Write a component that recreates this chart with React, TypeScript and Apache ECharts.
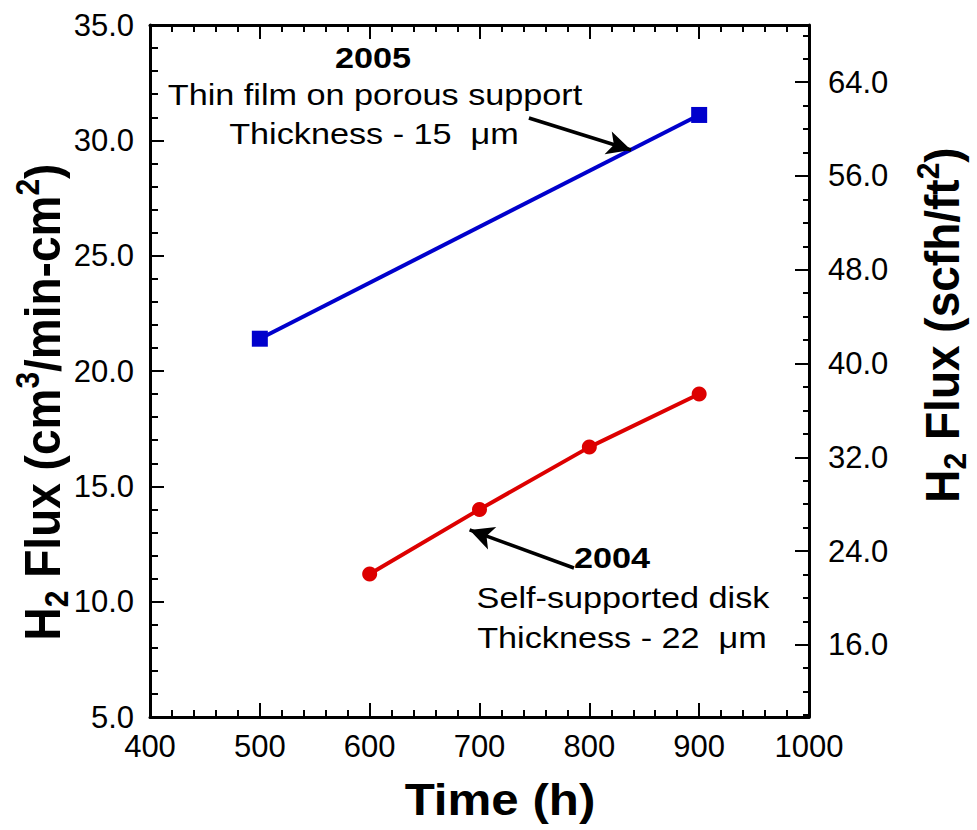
import React, { useEffect, useRef } from "react";
import * as echarts from "echarts";

// ---- data ----
const X_MIN = 400;
const X_MAX = 1000;
const Y_MIN = 5;
const Y_MAX = 35;
const SCFH_PER_CM3 = 1.968; // cm3/min-cm2 -> scfh/ft2
const thinFilm2005: [number, number][] = [
  [500, 21.4],
  [900, 31.1],
];
const disk2004: [number, number][] = [
  [600, 11.2],
  [700, 14.0],
  [800, 16.7],
  [900, 19.0],
];
const rightMajorTicks = [16, 24, 32, 40, 48, 56, 64];
const rightMinorTicks = [10, 12, 14, 18, 20, 22, 26, 28, 30, 34, 36, 38, 42, 44, 46, 50, 52, 54, 58, 60, 62, 66, 68];
// arrow annotations [from, to] in data coordinates (Time, cm3/min-cm2)
const arrow2005: [number, number][] = [
  [745, 30.97],
  [838, 29.58],
];
const arrow2004: [number, number][] = [
  [786, 11.46],
  [691, 13.11],
];

const FONT = "'Liberation Sans', Arial, Helvetica, sans-serif";

export default function App() {
  const ref = useRef<HTMLDivElement>(null);
  useEffect(() => {
    if (!ref.current) return;
    const chart = echarts.init(ref.current, null, { renderer: "svg" });
    const axisLine = { show: true, lineStyle: { color: "#000", width: 3 } };
    const labelStyle = { color: "#000", fontSize: 31, fontFamily: FONT };
    const titleRich = {
      b: { fontSize: 46, fontWeight: "bold", fontFamily: FONT, fill: "#000", lineHeight: 56 },
      sub: { fontSize: 30, fontWeight: "bold", fontFamily: FONT, fill: "#000", verticalAlign: "bottom", lineHeight: 22 },
      sup: { fontSize: 30, fontWeight: "bold", fontFamily: FONT, fill: "#000", verticalAlign: "top", lineHeight: 22 },
    };
    const annot = (text: string, x: number, y: number, bold: boolean) => ({
      type: "text",
      x,
      y,
      scaleX: 1.18,
      z: 100,
      style: {
        text,
        fontSize: 29,
        fontWeight: bold ? "bold" : "normal",
        fontFamily: FONT,
        fill: "#000",
        align: "center",
        verticalAlign: "middle",
      },
    });
    const arrowLine = (pts: [number, number][]) => [
      { coord: pts[0], symbol: "none" },
      { coord: pts[1], symbol: "arrow" },
    ];
    const markLineStyle = {
      silent: true,
      symbol: ["none", "arrow"],
      symbolSize: [18, 24],
      lineStyle: { color: "#000", width: 3.5, type: "solid" },
      label: { show: false },
      emphasis: { disabled: true },
    };
    chart.setOption({
      animation: false,
      backgroundColor: "#fff",
      grid: { left: 150, top: 25, width: 659, height: 692, containLabel: false },
      xAxis: [
        {
          type: "value",
          position: "bottom",
          min: X_MIN,
          max: X_MAX,
          interval: 100,
          axisLine,
          axisTick: { show: true, inside: true, length: 14, lineStyle: { color: "#000", width: 2 } },
          minorTick: { show: true, splitNumber: 5, length: 7, lineStyle: { color: "#000", width: 2 } },
          splitLine: { show: false },
          axisLabel: { ...labelStyle, margin: 14, formatter: (v: number) => String(v) },
        },
        {
          type: "value",
          position: "top",
          min: X_MIN,
          max: X_MAX,
          interval: 100,
          axisLine,
          axisTick: { show: true, inside: true, length: 14, lineStyle: { color: "#000", width: 2 } },
          minorTick: { show: true, splitNumber: 5, length: 7, lineStyle: { color: "#000", width: 2 } },
          splitLine: { show: false },
          axisLabel: { show: false },
        },
      ],
      yAxis: [
        {
          type: "value",
          position: "left",
          min: Y_MIN,
          max: Y_MAX,
          interval: 5,
          axisLine,
          axisTick: { show: true, inside: true, length: 14, lineStyle: { color: "#000", width: 2 } },
          minorTick: { show: true, splitNumber: 5, length: 8, lineStyle: { color: "#000", width: 2 } },
          splitLine: { show: false },
          axisLabel: { ...labelStyle, margin: 16, formatter: (v: number) => v.toFixed(1) },
        },
        {
          type: "value",
          position: "right",
          min: Y_MIN * SCFH_PER_CM3,
          max: Y_MAX * SCFH_PER_CM3,
          axisLine,
          axisTick: { show: true, inside: true, length: 14, customValues: rightMajorTicks, lineStyle: { color: "#000", width: 2 } },
          splitLine: { show: false },
          axisLabel: { ...labelStyle, margin: 19, customValues: rightMajorTicks, formatter: (v: number) => v.toFixed(1) },
        },
        {
          type: "value",
          position: "right",
          min: Y_MIN * SCFH_PER_CM3,
          max: Y_MAX * SCFH_PER_CM3,
          axisLine: { show: false },
          axisTick: { show: true, inside: true, length: 6, customValues: rightMinorTicks, lineStyle: { color: "#000", width: 2 } },
          splitLine: { show: false },
          axisLabel: { show: false },
        },
      ],
      series: [
        {
          name: "2005",
          type: "line",
          data: thinFilm2005,
          xAxisIndex: 0,
          yAxisIndex: 0,
          symbol: "rect",
          symbolSize: 16,
          lineStyle: { color: "#0000CC", width: 4 },
          itemStyle: { color: "#0000CC" },
          markLine: { ...markLineStyle, data: [arrowLine(arrow2005)] },
        },
        {
          name: "2004",
          type: "line",
          data: disk2004,
          xAxisIndex: 0,
          yAxisIndex: 0,
          symbol: "circle",
          symbolSize: 15,
          lineStyle: { color: "#DD0000", width: 4 },
          itemStyle: { color: "#DD0000" },
          markLine: { ...markLineStyle, data: [arrowLine(arrow2004)] },
        },
      ],
      graphic: [
        annot("2005", 373, 58, true),
        annot("Thin film on porous support", 375, 95, false),
        annot("Thickness - 15  \u03bcm", 374, 134, false),
        annot("2004", 612, 558, true),
        annot("Self-supported disk", 623, 598, false),
        annot("Thickness - 22  \u03bcm", 622, 638, false),
        {
          type: "text",
          x: 500,
          y: 800,
          scaleX: 1.12,
          style: {
            text: "Time (h)",
            fontSize: 44,
            fontWeight: "bold",
            fontFamily: FONT,
            fill: "#000",
            align: "center",
            verticalAlign: "middle",
          },
        },
        {
          type: "text",
          x: 42,
          y: 402,
          rotation: Math.PI / 2,
          scaleY: 1.1,
          style: {
            text: "{b|H}{sub|2}{b| Flux (cm}{sup|3}{b|/min-cm}{sup|2}{b|)}",
            rich: titleRich,
            align: "center",
            verticalAlign: "middle",
          },
        },
        {
          type: "text",
          x: 942,
          y: 325,
          rotation: Math.PI / 2,
          scaleY: 1.05,
          style: {
            text: "{b|H}{sub|2}{b| Flux (scfh/ft}{sup|2}{b|)}",
            rich: titleRich,
            align: "center",
            verticalAlign: "middle",
          },
        },
      ],
    });
    return () => chart.dispose();
  }, []);
  return <div ref={ref} style={{ width: 977, height: 830, position: "absolute", left: 0, top: 0 }} />;
}
